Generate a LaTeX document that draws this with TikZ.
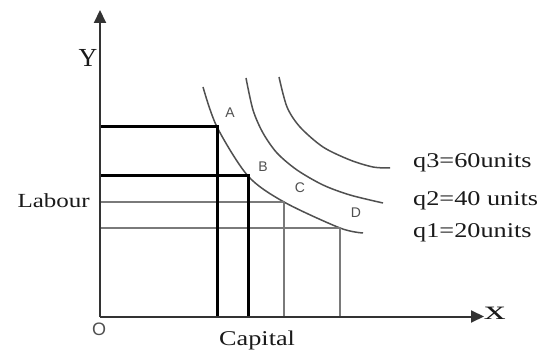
\documentclass[tikz,border=0pt]{standalone}
\usepackage{fontspec}
\setmainfont{Liberation Serif}
\newfontfamily\labfont[FakeStretch=1.25]{Liberation Serif}
\newfontfamily\xfont[FakeStretch=1.6]{Liberation Serif}
\newfontfamily\ptfont{Liberation Sans}
\usetikzlibrary{arrows.meta}
\definecolor{axisgray}{HTML}{333333}
\definecolor{linegray}{HTML}{7A7A7A}
\definecolor{curvegray}{HTML}{505050}
\definecolor{textdark}{HTML}{1A1A1A}
\tikzset{
  axisline/.style={draw=axisgray, line width=2pt, -{Triangle[length=13pt,width=12pt]}},
  thickline/.style={draw=black, line width=3pt},
  thinline/.style={draw=linegray, line width=1.8pt},
  isoquant/.style={draw=curvegray, line width=1.5pt},
  ptlabel/.style={font=\ptfont\fontsize{14}{16}\selectfont, text=curvegray, inner sep=0pt},
  qlabel/.style={font=\labfont\fontsize{21}{24}\selectfont, anchor=base west, inner sep=0pt, text=textdark},
}
\begin{document}
\begin{tikzpicture}[x=1pt,y=-1pt]
\useasboundingbox (0,0) rectangle (540,352);
\fill[white] (0,0) rectangle (540,352);
% key coordinates
\coordinate (O) at (100,316.5);
\coordinate (Ytip) at (100,10);
\coordinate (Xtip) at (484,316.5);
\coordinate (A) at (217,127);
\coordinate (B) at (248,176);
\coordinate (C) at (284,202);
\coordinate (D) at (340,228);
% isoquants
\draw[isoquant] plot[smooth] coordinates {(203,87) (A) (B) (C) (D) (363,233)};
\draw[isoquant] plot[smooth] coordinates {(246,78) (253,110) (263,133) (277,153) (297,170) (323,185) (350,195) (383,203)};
\draw[isoquant] plot[smooth] coordinates {(279,77) (287,107) (300,127) (323,147) (350,160) (373,167) (390,168)};
% gray lines
\draw[thinline] (O |- C) -- (C) -- (C |- O);
\draw[thinline] (O |- D) -- (D) -- (D |- O);
% thick lines
\draw[thickline] (O |- A) -- (A) -- (A |- O);
\draw[thickline] (O |- B) -- (B) -- (B |- O);
% axes
\draw[axisline] (O) -- (Ytip);
\draw[axisline] (O) -- (Xtip);
% labels
\node[font=\fontsize{26}{28}\selectfont, inner sep=0pt, text=textdark] (ylab) at (88,58) {Y};
\node[font=\xfont\fontsize{27}{28}\selectfont, anchor=base, inner sep=0pt, text=textdark] (xlab) at (495,319) {x};
\node[font=\labfont\fontsize{20}{24}\selectfont, anchor=base east, inner sep=0pt, text=textdark] (lab) at (90,208) {Labour};
\node[font=\labfont\fontsize{21}{24}\selectfont, anchor=base west, inner sep=0pt, text=textdark] (cap) at (219,345) {Capital};
\node[font=\ptfont\fontsize{18}{20}\selectfont, text=curvegray, inner sep=0pt] (olab) at (99,329) {O};
\node[ptlabel] (la) at (230,113) {A};
\node[ptlabel] (lb) at (263,167) {B};
\node[ptlabel] (lc) at (300,188) {C};
\node[ptlabel] (ld) at (356,213) {D};
\node[qlabel] (q3) at (413,168) {q3=60units};
\node[qlabel] (q2) at (413,206) {q2=40 units};
\node[qlabel] (q1) at (413,238) {q1=20units};
\end{tikzpicture}
\end{document}
